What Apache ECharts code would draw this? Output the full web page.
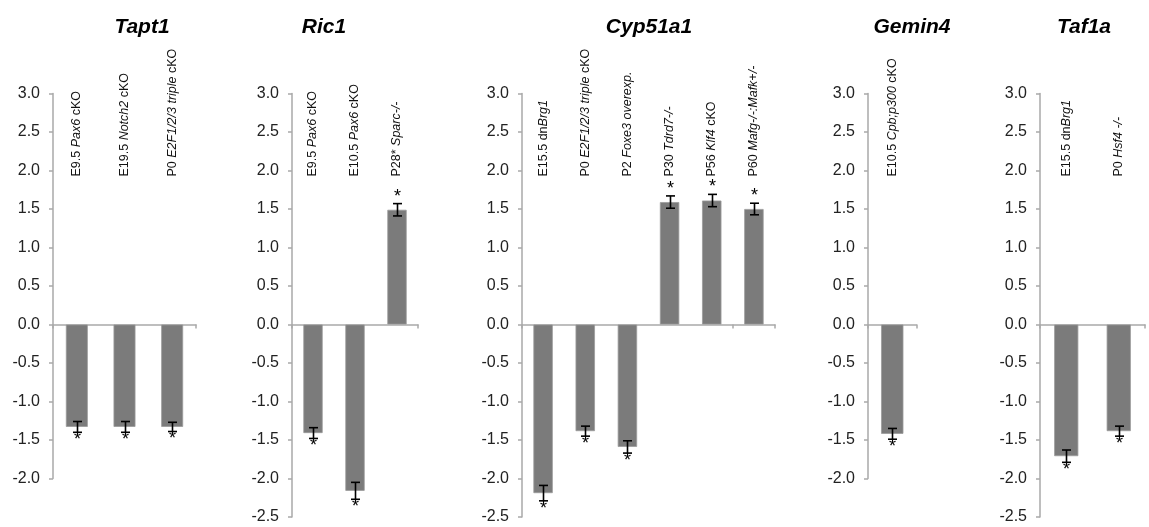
<!DOCTYPE html>
<html>
<head>
<meta charset="utf-8">
<script src="https://cdn.jsdelivr.net/npm/echarts@6/dist/echarts.min.js"></script>
<style>
html,body{margin:0;padding:0;background:#fff;}
#chart{width:1149px;height:527px;}
</style>
</head>
<body>
<div id="chart"></div>
<script>
// ---- data (underscores mark italic parts of labels) ----
const panelTitles = ['Tapt1', 'Ric1', 'Cyp51a1', 'Gemin4', 'Taf1a'];

const tapt1Categories = ['E9.5 _Pax6_ cKO', 'E19.5 _Notch2_ cKO', 'P0 _E2F1/2/3 triple_ cKO'];
const tapt1Values = [-1.33, -1.33, -1.33];
const tapt1Errors = [0.07, 0.07, 0.06];

const ric1Categories = ['E9.5 _Pax6_ cKO', 'E10.5 _Pax6_ cKO', 'P28* _Sparc-/-_'];
const ric1Values = [-1.41, -2.16, 1.49];
const ric1Errors = [0.07, 0.11, 0.08];

const cyp51a1Categories = ['E15.5 dn_Brg1_', 'P0 _E2F1/2/3 triple_ cKO', 'P2 _Foxe3 overexp._', 'P30 _Tdrd7-/-_', 'P56 _Klf4_ cKO', 'P60 _Mafg-/-:Mafk+/-_'];
const cyp51a1Values = [-2.19, -1.385, -1.59, 1.59, 1.61, 1.50];
const cyp51a1Errors = [0.10, 0.065, 0.08, 0.08, 0.08, 0.075];

const gemin4Categories = ['E10.5 _Cpb;p300_ cKO'];
const gemin4Values = [-1.42];
const gemin4Errors = [0.07];

const taf1aCategories = ['E15.5 dn_Brg1_', 'P0 _Hsf4 -/-_'];
const taf1aValues = [-1.71, -1.385];
const taf1aErrors = [0.08, 0.065];

const yMaxList = [3, 3, 3, 3, 3];
const yMinList = [-2, -2.5, -2.5, -2, -2.5];
const yTickStep = 0.5;

// ---- layout ----
const panelCategories = [tapt1Categories, ric1Categories, cyp51a1Categories, gemin4Categories, taf1aCategories];
const panelValues = [tapt1Values, ric1Values, cyp51a1Values, gemin4Values, taf1aValues];
const panelErrors = [tapt1Errors, ric1Errors, cyp51a1Errors, gemin4Errors, taf1aErrors];
const gridLeft = [53, 292, 522, 868, 1040];
const gridWidth = [143, 126, 253, 48.5, 105];
const titleCenter = [137, 319, 644, 907, 1079];
const gridTop = 93.5;
const pxPerUnit = 77;
const labelBottomY = 176.5;

const FONT = '"Liberation Sans", Arial, sans-serif';
const axisColor = '#a9a9a9';

function richLabel(s) {
  const parts = s.split('_');
  let out = '';
  parts.forEach((p, k) => {
    if (!p) return;
    out += '{' + (k % 2 ? 'i' : 'n') + '|' + p + '}';
  });
  return out;
}

const grids = [], xAxes = [], yAxes = [], series = [], titles = [];

panelTitles.forEach((t, p) => {
  const h = (yMaxList[p] - yMinList[p]) * pxPerUnit;
  grids.push({ left: gridLeft[p], top: gridTop, width: gridWidth[p], height: h, containLabel: false });
  titles.push({
    text: t, left: titleCenter[p], top: 12, textAlign: 'center',
    textStyle: { fontFamily: FONT, fontSize: 21, fontWeight: 'bold', fontStyle: 'italic', color: '#000' }
  });
  // bottom axis (at zero)
  xAxes.push({
    type: 'category', gridIndex: p, data: panelCategories[p], position: 'bottom',
    axisLine: { onZero: true, lineStyle: { color: axisColor, width: 1.5 } },
    axisTick: { show: true, length: 4, inside: false, lineStyle: { color: axisColor, width: 1.5 } },
    axisLabel: { show: false }, splitLine: { show: false }
  });
  // top label axis
  xAxes.push({
    type: 'category', gridIndex: p, data: panelCategories[p], position: 'top',
    offset: -(labelBottomY - gridTop),
    axisLine: { show: false }, axisTick: { show: false }, splitLine: { show: false },
    axisLabel: {
      show: true, rotate: -90, margin: 0, interval: 0,
      formatter: (v) => richLabel(v),
      rich: {
        n: { fontFamily: FONT, fontSize: 12.5, color: '#111' },
        i: { fontFamily: FONT, fontSize: 12.5, fontStyle: 'italic', color: '#111' }
      }
    }
  });
  yAxes.push({
    type: 'value', gridIndex: p, min: yMinList[p], max: yMaxList[p], interval: yTickStep,
    axisLine: { show: true, lineStyle: { color: axisColor, width: 1.5 } },
    axisTick: { show: true, length: 4, lineStyle: { color: axisColor, width: 1.5 } },
    splitLine: { show: false },
    axisLabel: { fontFamily: FONT, fontSize: 16, color: '#222', margin: 13, formatter: (v) => v.toFixed(1) }
  });
  series.push({
    type: 'bar', xAxisIndex: p * 2, yAxisIndex: p, data: panelValues[p],
    barWidth: '46%', itemStyle: { color: '#7b7b7b', borderColor: '#9a9a9a', borderWidth: 0.8 },
    silent: true, z: 2
  });
  series.push({
    type: 'custom', xAxisIndex: p * 2, yAxisIndex: p, z: 5, silent: true,
    data: panelValues[p].map((v, i) => [i, v, panelErrors[p][i]]),
    encode: { x: 0, y: 1 },
    renderItem: (params, api) => {
      const i = api.value(0), v = api.value(1), e = api.value(2);
      const hi = api.coord([i, v + e]);
      const lo = api.coord([i, v - e]);
      const x = Math.round(hi[0]) + 0.5;
      const cap = 4.5;
      const ls = { stroke: '#000', lineWidth: 1.6 };
      const star = v >= 0
        ? { x: x, y: hi[1] + 2, verticalAlign: 'bottom' }
        : { x: x, y: lo[1] - 1, verticalAlign: 'top' };
      return {
        type: 'group',
        children: [
          { type: 'line', shape: { x1: x, y1: hi[1], x2: x, y2: lo[1] }, style: ls },
          { type: 'line', shape: { x1: x - cap, y1: hi[1], x2: x + cap, y2: hi[1] }, style: ls },
          { type: 'line', shape: { x1: x - cap, y1: lo[1], x2: x + cap, y2: lo[1] }, style: ls },
          { type: 'text', style: { text: '*', x: star.x, y: star.y, align: 'center', verticalAlign: star.verticalAlign,
            font: '18px "Liberation Sans", Arial, sans-serif', fill: '#000' } }
        ]
      };
    }
  });
});

const chart = echarts.init(document.getElementById('chart'), null, { renderer: 'canvas' });
chart.setOption({
  animation: false,
  backgroundColor: '#fff',
  title: titles,
  grid: grids,
  xAxis: xAxes,
  yAxis: yAxes,
  series: series
});
</script>
</body>
</html>
